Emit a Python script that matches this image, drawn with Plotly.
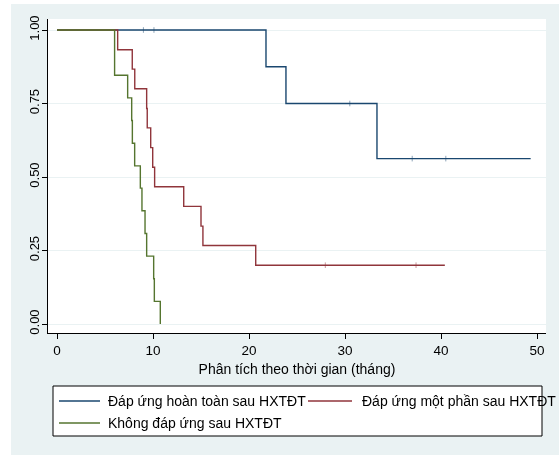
import plotly.graph_objects as go

# Kaplan-Meier survival curves by response group (time in months)
names = ["Đáp ứng hoàn toàn sau HXTĐT",
         "Đáp ứng một phần sau HXTĐT",
         "Không đáp ứng sau HXTĐT"]
colors = ["#1A476F", "#90353B", "#55752F"]

# complete response
t_complete = [0, 21.77, 23.85, 33.33, 49.34]
s_complete = [1.0, 0.875, 0.75, 0.5625, 0.5625]
cens_t_complete = [9.0, 10.1, 30.5, 37.0, 40.5]
cens_s_complete = [1.0, 1.0, 0.75, 0.5625, 0.5625]

# partial response
t_partial = [0, 6.32, 7.84, 8.1, 9.34, 9.4, 9.76, 9.97, 10.17, 13.2, 15.0, 15.2, 20.7, 40.4]
s_partial = [1.0, 0.933, 0.867, 0.8, 0.733, 0.667, 0.6, 0.533, 0.467, 0.4, 0.333, 0.267, 0.2, 0.2]
cens_t_partial = [27.95, 37.4]
cens_s_partial = [0.2, 0.2]

# no response
t_none = [0, 6.0, 7.36, 7.78, 7.85, 8.09, 8.68, 8.85, 9.17, 9.34, 10.07, 10.14, 10.76]
s_none = [1.0, 0.846, 0.769, 0.692, 0.615, 0.538, 0.462, 0.385, 0.308, 0.231, 0.154, 0.077, 0.0]

x_ticks = [0, 10, 20, 30, 40, 50]
y_ticks = [0, 0.25, 0.5, 0.75, 1.0]
y_ticklabels = ["0.00", "0.25", "0.50", "0.75", "1.00"]
x_title = "Phân tích theo thời gian (tháng)"

FONT = "Liberation Sans, Arial, sans-serif"
BG = "#EAF2F3"

fig = go.Figure()

curves = [(t_complete, s_complete), (t_partial, s_partial), (t_none, s_none)]
for (t, s), name, col in zip(curves, names, colors):
    fig.add_trace(go.Scatter(x=t, y=s, mode="lines", name=name,
                             line=dict(color=col, width=1.4, shape="hv"),
                             hoverinfo="skip"))

# censoring ticks
for ct, cs, col in [(cens_t_complete, cens_s_complete, colors[0]),
                    (cens_t_partial, cens_s_partial, colors[1])]:
    fig.add_trace(go.Scatter(x=ct, y=cs, mode="markers", showlegend=False,
                             opacity=0.5,
                             marker=dict(symbol="line-ns", size=4,
                                         line=dict(color=col, width=1)),
                             hoverinfo="skip"))

W, H = 559, 455
ML, MR, MT, MB = 48, 13, 19, 122
pw, ph = W - ML - MR, H - MT - MB


def px_x(p):
    return (p - ML) / pw


def px_y(p):
    return (H - MB - p) / ph


# white page edge on the left and top of the graph region
shapes = [
    dict(type="rect", xref="paper", yref="paper", layer="below",
         x0=px_x(0), x1=px_x(11), y0=px_y(H), y1=px_y(0),
         fillcolor="white", line=dict(width=0)),
    dict(type="rect", xref="paper", yref="paper", layer="below",
         x0=px_x(0), x1=px_x(W), y0=px_y(4), y1=px_y(0),
         fillcolor="white", line=dict(width=0)),
]

# legend box: two columns, entries filled row by row
shapes.append(dict(type="rect", xref="paper", yref="paper", layer="above",
                   x0=px_x(53), x1=px_x(542), y0=px_y(436), y1=px_y(386),
                   fillcolor="white", line=dict(color="black", width=1)))
annotations = []
legend_slots = [(59, 100, 105.5, 401), (308, 352, 359.5, 401), (59, 100, 105.5, 423)]
for (lx0, lx1, tx, ry), name, col in zip(legend_slots, names, colors):
    shapes.append(dict(type="line", xref="paper", yref="paper", layer="above",
                       x0=px_x(lx0), x1=px_x(lx1), y0=px_y(ry), y1=px_y(ry),
                       line=dict(color=col, width=1.4)))
    annotations.append(dict(xref="paper", yref="paper", x=px_x(tx), y=px_y(ry),
                            xanchor="left", yanchor="middle", showarrow=False,
                            text=name, font=dict(family=FONT, size=14,
                                                 color="black")))

fig.update_layout(
    width=W, height=H,
    margin=dict(l=ML, r=MR, t=MT, b=MB, pad=0),
    paper_bgcolor=BG, plot_bgcolor="white",
    font=dict(family=FONT, size=13, color="black"),
    shapes=shapes, annotations=annotations,
    showlegend=False,
)

fig.update_xaxes(range=[-0.9375, 50.9375], tickvals=x_ticks, automargin=False,
                 ticks="outside", ticklen=5, tickcolor="black", tickwidth=1,
                 ticklabelstandoff=0,
                 showline=True, linecolor="black", linewidth=1,
                 showgrid=False, zeroline=False,
                 title=dict(text=x_title, standoff=6,
                            font=dict(family=FONT, size=14)),
                 tickfont=dict(family=FONT, size=13.5))
fig.update_yaxes(range=[-0.0306, 1.0374], tickvals=y_ticks, ticktext=y_ticklabels,
                 tickangle=-90, automargin=False,
                 ticks="outside", ticklen=5, tickcolor="black", tickwidth=1,
                 ticklabelstandoff=-2,
                 showline=True, linecolor="black", linewidth=1,
                 showgrid=True, gridcolor=BG, gridwidth=1, zeroline=False,
                 tickfont=dict(family=FONT, size=13))

fig.write_html("out.html")
